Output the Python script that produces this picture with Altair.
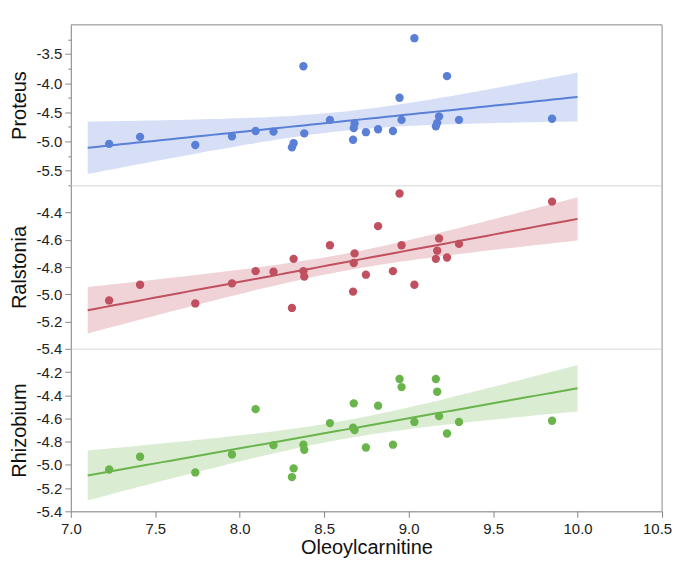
import altair as alt
import pandas as pd
import numpy as np

# ---- data ----
oleoylcarnitine = [7.227, 7.41, 7.737, 7.954, 8.094, 8.20, 8.319, 8.309, 8.377, 8.382,
                   8.534, 8.671, 8.675, 8.68, 8.747, 8.819, 8.907, 8.946, 8.958, 9.034,
                   9.161, 9.169, 9.18, 9.227, 9.298, 9.849]
proteus = [-5.04, -4.92, -5.06, -4.91, -4.82, -4.83, -5.03, -5.10, -3.71, -4.86,
           -4.63, -4.97, -4.77, -4.69, -4.84, -4.79, -4.82, -4.25, -4.63, -3.23,
           -4.74, -4.68, -4.57, -3.88, -4.63, -4.61]
ralstonia = [-5.045, -4.93, -5.067, -4.92, -4.83, -4.834, -4.74, -5.10, -4.83, -4.87,
             -4.64, -4.98, -4.77, -4.70, -4.856, -4.50, -4.83, -4.26, -4.64, -4.93,
             -4.74, -4.68, -4.59, -4.73, -4.63, -4.32]
rhizobium = [-5.04, -4.93, -5.065, -4.91, -4.52, -4.83, -5.03, -5.105, -4.826, -4.87,
             -4.64, -4.68, -4.47, -4.70, -4.85, -4.49, -4.826, -4.26, -4.33, -4.63,
             -4.26, -4.37, -4.58, -4.73, -4.63, -4.62]

species = ["Proteus", "Ralstonia", "Rhizobium"]
series = [proteus, ralstonia, rhizobium]
colors = ["#5a7fd6", "#c0505f", "#6ab44c"]
y_domains = [[-5.75, -3.0], [-5.4, -4.2], [-5.4, -4.0]]
y_ticks = [[-5.75, -5.5, -5.25, -5.0, -4.75, -4.5, -4.25, -4.0, -3.75, -3.5, -3.25],
           [-5.4, -5.2, -5.0, -4.8, -4.6, -4.4],
           [-5.4, -5.2, -5.0, -4.8, -4.6, -4.4, -4.2]]
y_label_step = [0.5, 0.2, 0.2]
x_ticks = [7.0, 7.5, 8.0, 8.5, 9.0, 9.5, 10.0, 10.5]
x_domain = [7.0, 10.5]
fit_range = [7.1, 10.0]
x_title = "Oleoylcarnitine"

W = 593
heights = [161, 164, 163]
FONT = "Liberation Sans"

HYPHEN = "(datum.value < 0 ? '-' : '') + format(abs(datum.value), '.1f')"


def fit(x, y):
    x = np.asarray(x, dtype=float)
    y = np.asarray(y, dtype=float)
    n = len(x)
    b, a = np.polyfit(x, y, 1)
    resid = y - (a + b * x)
    s = np.sqrt(np.sum(resid ** 2) / (n - 2))
    xm = x.mean()
    sxx = np.sum((x - xm) ** 2)
    gx = np.linspace(fit_range[0], fit_range[1], 60)
    yhat = a + b * gx
    se = s * np.sqrt(1.0 / n + (gx - xm) ** 2 / sxx)
    t = 2.064
    return pd.DataFrame({"x": gx, "fit": yhat, "lo": yhat - t * se, "hi": yhat + t * se})


def panel(i, show_x):
    h = heights[i]
    pts_df = pd.DataFrame({"x": oleoylcarnitine, "y": series[i]})
    fit_df = fit(oleoylcarnitine, series[i])
    xs = alt.Scale(domain=x_domain, nice=False, zero=False)
    ysc = alt.Scale(domain=y_domains[i], nice=False, zero=False)
    if show_x:
        xaxis = alt.Axis(values=x_ticks, labelExpr=HYPHEN, title=x_title, grid=False,
                         tickSize=6, labelPadding=4, titlePadding=1, labelFlush=False,
                         labelOffset={"condition": {"test": f"datum.value >= {x_domain[1]}",
                                                    "value": -5}, "value": 0},
                         labelFontSize=15, titleFontSize=20)
    else:
        xaxis = None
    step = y_label_step[i]
    major = f"abs(datum.value / {step} - round(datum.value / {step})) < 0.001"
    yaxis = alt.Axis(values=y_ticks[i], title=species[i], grid=False,
                     labelExpr=f"{major} ? {HYPHEN} : ''",
                     tickSize={"condition": {"test": major, "value": 6}, "value": 3},
                     labelPadding=3, titlePadding=7, labelFlush=False,
                     labelFontSize=15, titleFontSize=20)
    band = alt.Chart(fit_df).mark_area(color=colors[i], opacity=0.25).encode(
        x=alt.X("x:Q", scale=xs, axis=xaxis),
        y=alt.Y("lo:Q", scale=ysc, axis=yaxis),
        y2="hi:Q",
    )
    line = alt.Chart(fit_df).mark_line(color=colors[i], strokeWidth=2).encode(
        x=alt.X("x:Q", scale=xs, axis=xaxis),
        y=alt.Y("fit:Q", scale=ysc, axis=yaxis),
    )
    pts = alt.Chart(pts_df).mark_circle(color=colors[i], size=70, opacity=1).encode(
        x=alt.X("x:Q", scale=xs, axis=xaxis),
        y=alt.Y("y:Q", scale=ysc, axis=yaxis),
    )
    frame_df = pd.DataFrame({"k": [0]})
    right = alt.Chart(frame_df).mark_rule(color="#999999", strokeWidth=1).encode(
        x=alt.value(W), y=alt.value(0), y2=alt.value(h)
    )
    layers = [band, line, pts, right]
    if i == 0:
        top = alt.Chart(frame_df).mark_rule(color="#999999", strokeWidth=1).encode(
            x=alt.value(0), x2=alt.value(W), y=alt.value(0)
        )
        layers.append(top)
    return alt.layer(*layers).properties(width=W, height=h)


chart = alt.vconcat(
    panel(0, False), panel(1, False), panel(2, True), spacing=0, bounds="flush"
).properties(
    padding={"left": 0, "top": 15, "right": 0, "bottom": 0}
).configure_view(
    stroke="#e2e2e2"
).configure_axis(
    domainColor="#888888", tickColor="#888888", labelColor="#222222",
    titleColor="#111111", labelFont=FONT, titleFont=FONT, titleFontWeight="normal"
)

chart.save("out.html", embed_options={"renderer": "svg", "actions": False})
